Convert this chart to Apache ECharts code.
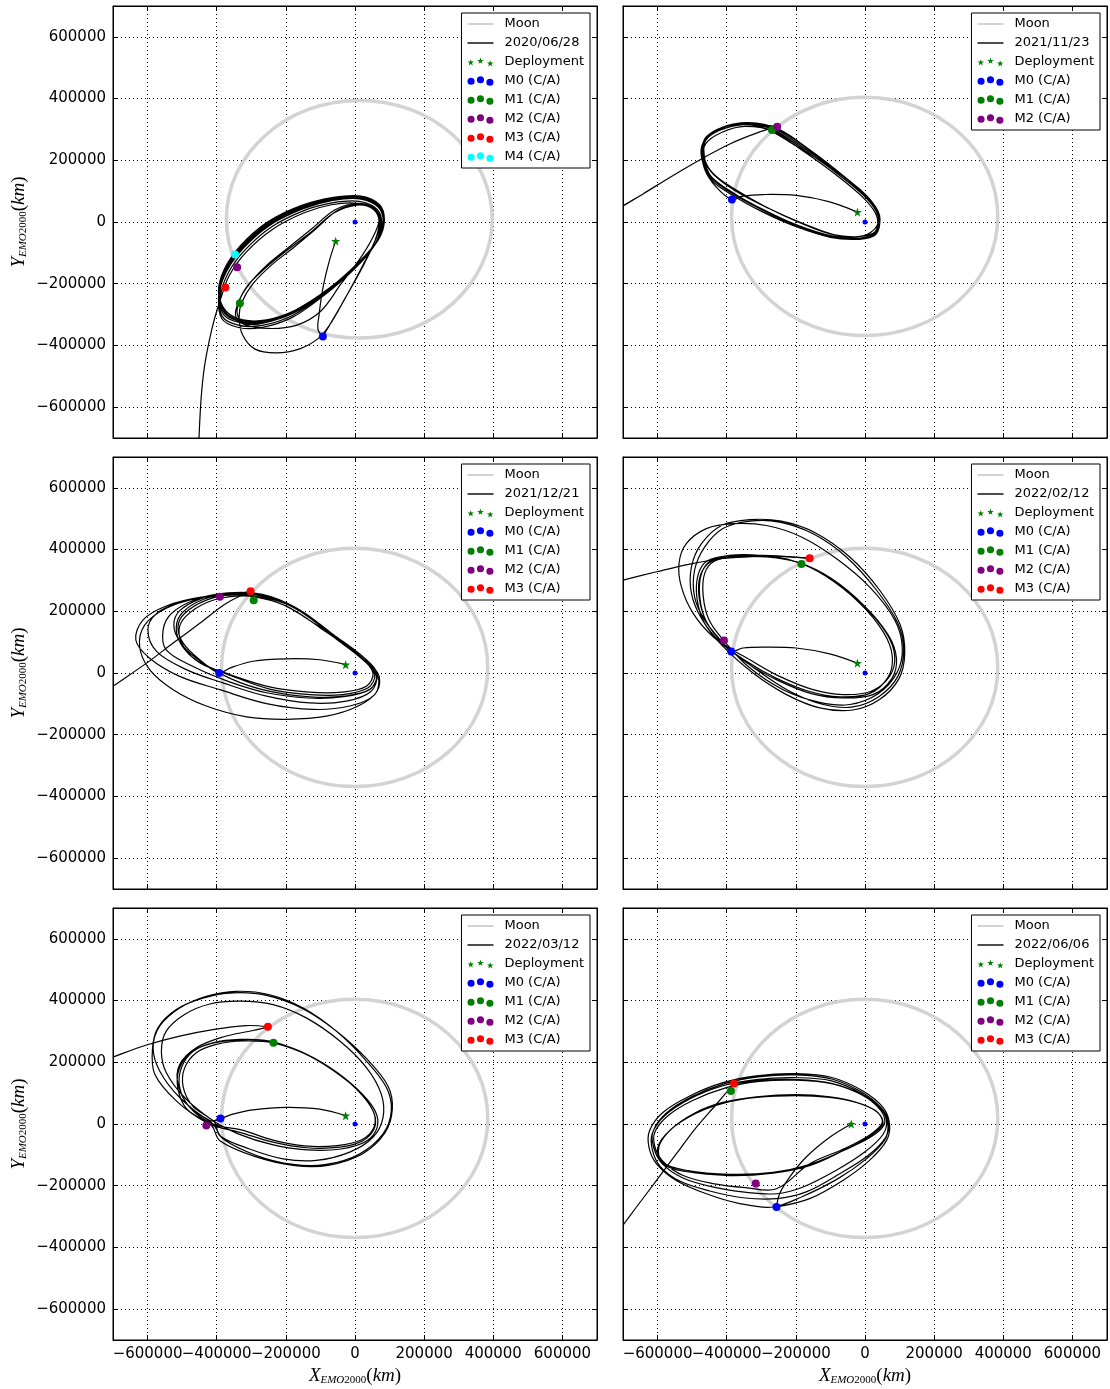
<!DOCTYPE html>
<html>
<head>
<meta charset="utf-8">
<script src="https://cdn.jsdelivr.net/npm/echarts/dist/echarts.min.js"></script>
<style>
html, body { margin: 0; padding: 0; background: #fff; }
#chart { width: 1110px; height: 1389px; }
</style>
</head>
<body>
<div id="chart"></div>
<script>
// panel titles (legend entry of the trajectory)
const dates = ['2020/06/28', '2021/11/23', '2021/12/21', '2022/02/12', '2022/03/12', '2022/06/06'];
const axisRange = [-700000, 700000];

const moon1 = [[397e3,9e3],[367e3,156e3],[284e3,281e3],[160e3,365e3],[12e3,394e3],[-135e3,365e3],[-259e3,281e3],[-343e3,156e3],[-372e3,9e3],[-343e3,-138e3],[-259e3,-263e3],[-135e3,-347e3],[12e3,-376e3],[160e3,-347e3],[284e3,-263e3],[367e3,-138e3]];
const moon2 = [[384e3,18e3],[355e3,166e3],[271e3,291e3],[146e3,375e3],[-1e3,404e3],[-148e3,375e3],[-273e3,291e3],[-357e3,166e3],[-386e3,18e3],[-357e3,-130e3],[-273e3,-255e3],[-148e3,-339e3],[-1e3,-368e3],[146e3,-339e3],[271e3,-255e3],[355e3,-130e3]];

// trajectories (km), one array per drawn stroke
const dep1 = [[-56e3,-62e3],[-75e3,-129e3],[-93e3,-215e3],[-104e3,-301e3],[-107e3,-349e3],[-93e3,-371e3]];
const orb1 = [[-93e3,-371e3],
  [-62e3,-312e3],[-20e3,-230e3],[25e3,-135e3],[62e3,-50e3],[74e3,5e3],[55e3,45e3],[10e3,58e3],[-50e3,38e3],[-116e3,-25e3],[-180e3,-85e3],[-241e3,-139e3],[-295e3,-200e3],[-328e3,-262e3],[-335e3,-310e3],[-325e3,-366e3],[-289e3,-412e3],[-227e3,-424e3],[-160e3,-411e3],[-107e3,-378e3],
  [-73e3,-333e3],[-30e3,-250e3],[20e3,-150e3],[58e3,-60e3],[70e3,0],[52e3,42e3],[5e3,55e3],[-60e3,30e3],[-130e3,-35e3],[-200e3,-95e3],[-260e3,-150e3],[-310e3,-205e3],[-338e3,-262e3],[-345e3,-305e3],[-320e3,-332e3],
  [-250e3,-345e3],[-170e3,-335e3],[-100e3,-290e3],[-40e3,-200e3],[20e3,-110e3],[60e3,-30e3],[70e3,15e3],[48e3,50e3],[0,60e3],[-60e3,38e3],[-125e3,-22e3],[-195e3,-85e3],[-255e3,-140e3],[-305e3,-200e3],[-335e3,-255e3],[-340e3,-300e3],[-318e3,-330e3],
  [-266e3,-328e3],[-179e3,-296e3],[-83e3,-226e3],[4e3,-140e3],[62e3,-65e3],[81e3,0],[67e3,48e3],[14e3,75e3],[-64e3,70e3],[-150e3,43e3],[-247e3,-11e3],[-324e3,-86e3],[-372e3,-161e3],[-393e3,-237e3],
  [-377e3,-296e3],[-329e3,-323e3],[-261e3,-323e3],[-174e3,-290e3],[-78e3,-220e3],[9e3,-134e3],[67e3,-59e3],[83e3,2e3],[69e3,54e3],[15e3,81e3],[-64e3,75e3],[-152e3,48e3],[-249e3,-5e3],[-326e3,-81e3],[-374e3,-156e3],[-391e3,-231e3],
  [-384e3,-306e3],[-335e3,-335e3],[-268e3,-335e3],[-181e3,-303e3],[-87e3,-232e3],[-1e3,-148e3],[57e3,-73e3],[77e3,-9e3],[64e3,41e3],[12e3,67e3],[-66e3,62e3],[-148e3,37e3],[-243e3,-17e3],[-320e3,-93e3],[-368e3,-168e3],[-389e3,-242e3],
  [-380e3,-300e3],[-332e3,-326e3],[-264e3,-326e3],[-177e3,-293e3],[-80e3,-223e3],[7e3,-137e3],[65e3,-62e3],[82e3,1e3],[68e3,51e3],[14e3,78e3],[-64e3,72e3],[-151e3,45e3],[-248e3,-8e3],[-325e3,-84e3],[-373e3,-158e3],[-392e3,-234e3],
  [-372e3,-290e3],[-324e3,-317e3],[-256e3,-317e3],[-172e3,-285e3],[-75e3,-215e3],[12e3,-129e3],[69e3,-54e3],[85e3,5e3],[71e3,56e3],[18e3,84e3],[-62e3,80e3],[-154e3,54e3],[-253e3,0],[-330e3,-75e3],[-377e3,-151e3],[-395e3,-226e3],
  [-375e3,-293e3],[-327e3,-320e3],[-258e3,-320e3],[-173e3,-287e3],[-77e3,-217e3],[10e3,-131e3],[68e3,-56e3],[84e3,3e3],[70e3,55e3],[16e3,82e3],[-63e3,77e3],[-153e3,51e3],[-251e3,-3e3],[-328e3,-78e3],[-376e3,-153e3],[-394e3,-229e3],
  [-386e3,-312e3],[-337e3,-342e3],[-270e3,-342e3],[-183e3,-310e3],[-91e3,-239e3],[-4e3,-155e3],[54e3,-80e3],[73e3,-15e3],[60e3,34e3],[8e3,60e3],[-68e3,56e3],[-147e3,30e3],[-239e3,-24e3],[-316e3,-99e3],[-364e3,-174e3],[-388e3,-247e3],
  [-406e3,-312e3],[-422e3,-387e3],[-436e3,-473e3],[-445e3,-570e3],[-451e3,-694e3],[-454e3,-806e3]];

const orb2 = [[-22e3,32e3],[-102e3,65e3],[-199e3,86e3],[-295e3,89e3],[-353e3,84e3],[-385e3,73e3],
  [-430e3,113e3],[-464e3,172e3],[-470e3,237e3],[-444e3,285e3],[-382e3,314e3],[-295e3,306e3],[-199e3,246e3],[-102e3,179e3],[-15e3,106e3],[33e3,43e3],[35e3,-11e3],[-6e3,-45e3],[-83e3,-43e3],[-179e3,-5e3],[-276e3,43e3],[-372e3,99e3],[-440e3,156e3],
  [-467e3,210e3],[-464e3,269e3],[-420e3,303e3],[-353e3,320e3],[-266e3,304e3],[-170e3,235e3],[-73e3,158e3],[9e3,79e3],[42e3,22e3],[33e3,-32e3],[-15e3,-52e3],[-97e3,-45e3],[-194e3,-11e3],[-290e3,38e3],[-377e3,91e3],[-444e3,145e3],
  [-472e3,204e3],[-468e3,258e3],[-430e3,299e3],[-362e3,316e3],[-276e3,299e3],[-179e3,230e3],[-83e3,152e3],[-1e3,74e3],[35e3,16e3],[28e3,-34e3],[-20e3,-54e3],[-102e3,-48e3],[-199e3,-15e3],[-295e3,32e3],[-382e3,86e3],[-447e3,140e3],
  [-469e3,207e3],[-466e3,263e3],[-425e3,301e3],[-357e3,318e3],[-271e3,302e3],[-175e3,233e3],[-78e3,155e3],[5e3,76e3],[38e3,19e3],[30e3,-33e3],[-17e3,-53e3],[-99e3,-47e3],[-196e3,-13e3],[-292e3,36e3],[-379e3,89e3],[-445e3,143e3],
  [-468e3,199e3],[-461e3,253e3],[-415e3,290e3],[-348e3,310e3],[-261e3,293e3],[-165e3,225e3],[-68e3,147e3],[12e3,72e3],[40e3,16e3],[31e3,-30e3],[-13e3,-47e3],[-92e3,-41e3],[-189e3,-2e3],[-285e3,48e3],[-370e3,102e3],[-438e3,156e3],
  [-466e3,212e3],[-461e3,266e3],[-416e3,305e3],[-344e3,321e3],[-258e3,303e3],[-160e3,232e3],[-66e3,151e3],[14e3,74e3],[41e3,14e3],[32e3,-37e3],[-15e3,-55e3],[-98e3,-48e3],[-197e3,-12e3],[-293e3,39e3],[-380e3,93e3],[-446e3,148e3],
  [-465e3,215e3],[-459e3,271e3],[-411e3,307e3],[-338e3,322e3],[-252e3,302e3],[-155e3,230e3],[-62e3,149e3],[15e3,72e3],[42e3,11e3],[31e3,-41e3],[-17e3,-56e3],[-100e3,-50e3],[-199e3,-13e3],[-297e3,39e3],[-382e3,95e3],[-447e3,150e3],
  [-470e3,226e3],[-454e3,274e3],[-401e3,305e3],[-334e3,316e3],[-254e3,309e3]];
const esc2 = [[-254e3,309e3],[-314e3,288e3],[-391e3,253e3],[-464e3,210e3],[-555e3,151e3],[-642e3,91e3],[-700e3,52e3],[-738e3,24e3]];

const orb3 = [[-27e3,27e3],[-102e3,43e3],[-199e3,46e3],[-295e3,38e3],[-362e3,16e3],[-393e3,0],
  [-449e3,43e3],[-497e3,97e3],[-512e3,150e3],[-493e3,193e3],[-430e3,236e3],[-353e3,255e3],[-256e3,247e3],[-160e3,202e3],[-64e3,118e3],[23e3,43e3],[57e3,-5e3],[38e3,-48e3],[-35e3,-70e3],[-131e3,-70e3],[-247e3,-52e3],[-353e3,-11e3],
  [-454e3,38e3],[-502e3,91e3],[-517e3,148e3],[-499e3,196e3],[-438e3,239e3],[-360e3,258e3],[-261e3,252e3],[-162e3,206e3],[-62e3,124e3],[28e3,48e3],[64e3,-2e3],[44e3,-52e3],[-30e3,-75e3],[-131e3,-77e3],[-249e3,-59e3],[-358e3,-19e3],
  [-459e3,48e3],[-507e3,102e3],[-524e3,156e3],[-507e3,202e3],[-444e3,242e3],[-367e3,260e3],[-268e3,255e3],[-168e3,210e3],[-68e3,127e3],[18e3,52e3],[52e3,0],[33e3,-43e3],[-37e3,-62e3],[-133e3,-62e3],[-247e3,-45e3],[-362e3,-5e3],
  [-447e3,32e3],[-495e3,84e3],[-509e3,140e3],[-488e3,185e3],[-425e3,230e3],[-345e3,249e3],[-247e3,241e3],[-150e3,196e3],[-56e3,113e3],[31e3,38e3],[62e3,-11e3],[42e3,-54e3],[-33e3,-77e3],[-136e3,-81e3],[-256e3,-64e3],[-367e3,-27e3],
  [-468e3,21e3],[-546e3,75e3],[-555e3,140e3],[-531e3,193e3],[-459e3,239e3],[-372e3,258e3],[-276e3,253e3],[-174e3,210e3],[-73e3,129e3],[21e3,48e3],[62e3,-5e3],[47e3,-59e3],[-25e3,-91e3],[-131e3,-97e3],[-256e3,-75e3],[-382e3,-32e3],
  [-488e3,11e3],[-574e3,70e3],[-599e3,140e3],[-574e3,193e3],[-507e3,228e3],[-411e3,249e3],[-305e3,249e3],[-199e3,217e3],[-93e3,140e3],[13e3,54e3],[66e3,-11e3],[57e3,-70e3],[-15e3,-107e3],[-121e3,-118e3],[-256e3,-99e3],[-391e3,-54e3],
  [-507e3,-11e3],[-594e3,48e3],[-634e3,107e3],[-613e3,172e3],[-546e3,217e3],[-449e3,245e3],[-333e3,255e3],[-218e3,226e3],[-112e3,156e3],[-6e3,70e3],[66e3,0],[64e3,-59e3],[9e3,-107e3],[-83e3,-140e3],[-199e3,-150e3],[-314e3,-142e3],[-430e3,-107e3],[-526e3,-54e3],
  [-594e3,11e3],[-623e3,86e3],[-608e3,156e3],[-546e3,210e3],[-459e3,242e3],[-391e3,249e3],[-302e3,265e3]];
const esc3 = [[-302e3,265e3],[-372e3,226e3],[-449e3,161e3],[-526e3,97e3],[-603e3,32e3],[-700e3,-43e3],[-748e3,-81e3]];

const orb4 = [[-22e3,32e3],[-102e3,62e3],[-199e3,81e3],[-295e3,84e3],[-353e3,81e3],[-387e3,70e3],
  [-411e3,97e3],[-464e3,172e3],[-493e3,247e3],[-493e3,333e3],[-464e3,408e3],[-411e3,468e3],[-333e3,492e3],[-247e3,489e3],[-150e3,451e3],[-54e3,376e3],[33e3,269e3],[95e3,161e3],[112e3,75e3],[95e3,-11e3],[42e3,-75e3],[-35e3,-110e3],[-121e3,-102e3],[-218e3,-59e3],[-314e3,11e3],
  [-406e3,91e3],[-459e3,167e3],[-478e3,247e3],[-473e3,322e3],[-444e3,365e3],[-382e3,378e3],[-295e3,378e3],[-199e3,360e3],[-107e3,312e3],[-11e3,226e3],[62e3,129e3],[86e3,54e3],[71e3,-11e3],[18e3,-59e3],[-64e3,-70e3],[-150e3,-54e3],[-247e3,-11e3],[-333e3,43e3],
  [-420e3,102e3],[-473e3,177e3],[-502e3,258e3],[-502e3,344e3],[-473e3,419e3],[-415e3,478e3],[-333e3,497e3],[-242e3,492e3],[-143e3,454e3],[-44e3,376e3],[42e3,269e3],[102e3,156e3],[115e3,64e3],[98e3,-19e3],[42e3,-86e3],[-35e3,-120e3],[-131e3,-113e3],[-227e3,-70e3],[-324e3,0],
  [-415e3,91e3],[-464e3,161e3],[-486e3,242e3],[-483e3,317e3],[-457e3,363e3],[-393e3,381e3],[-305e3,381e3],[-206e3,363e3],[-114e3,314e3],[-17e3,228e3],[54e3,131e3],[79e3,54e3],[66e3,-15e3],[12e3,-67e3],[-73e3,-77e3],[-160e3,-60e3],[-256e3,-17e3],[-343e3,38e3],
  [-440e3,118e3],[-497e3,193e3],[-531e3,279e3],[-538e3,355e3],[-517e3,419e3],[-459e3,468e3],[-382e3,484e3],[-285e3,478e3],[-184e3,441e3],[-83e3,371e3],[13e3,279e3],[86e3,172e3],[108e3,81e3],[92e3,0],[38e3,-67e3],[-44e3,-102e3],[-131e3,-95e3],[-237e3,-54e3],[-338e3,21e3],
  [-406e3,102e3],[-451e3,172e3],[-468e3,249e3],[-464e3,322e3],[-435e3,363e3],[-372e3,376e3],[-285e3,376e3],[-189e3,357e3],[-97e3,306e3],[-4e3,220e3],[67e3,124e3],[91e3,48e3],[77e3,-19e3],[23e3,-70e3],[-64e3,-81e3],[-155e3,-67e3],[-252e3,-24e3],[-341e3,32e3],
  [-411e3,97e3],[-459e3,167e3],[-480e3,247e3],[-476e3,317e3],[-447e3,360e3],[-384e3,378e3],[-295e3,381e3],[-218e3,376e3],[-160e3,372e3]];
const esc4 = [[-160e3,372e3],[-237e3,378e3],[-314e3,378e3],[-411e3,371e3],[-507e3,353e3],[-603e3,328e3],[-700e3,301e3],[-758e3,286e3]];

const orb5 = [[-27e3,27e3],[-102e3,48e3],[-199e3,54e3],[-295e3,46e3],[-353e3,32e3],[-389e3,18e3],
  [-420e3,11e3],[-507e3,86e3],[-565e3,172e3],[-584e3,247e3],[-565e3,317e3],[-507e3,376e3],[-430e3,414e3],[-343e3,430e3],[-247e3,419e3],[-150e3,376e3],[-54e3,301e3],[33e3,204e3],[91e3,118e3],[105e3,43e3],[81e3,-32e3],[13e3,-97e3],[-83e3,-131e3],[-179e3,-131e3],[-285e3,-102e3],[-382e3,-48e3],
  [-411e3,0],[-478e3,54e3],[-507e3,118e3],[-502e3,183e3],[-468e3,236e3],[-411e3,263e3],[-333e3,274e3],[-247e3,269e3],[-160e3,236e3],[-73e3,183e3],[4e3,113e3],[52e3,43e3],[57e3,-11e3],[23e3,-54e3],[-44e3,-75e3],[-141e3,-77e3],[-237e3,-59e3],[-333e3,-27e3],
  [-425e3,2e3],[-517e3,75e3],[-579e3,161e3],[-586e3,242e3],[-570e3,312e3],[-517e3,371e3],[-440e3,408e3],[-353e3,425e3],[-256e3,417e3],[-155e3,376e3],[-56e3,303e3],[35e3,210e3],[95e3,124e3],[108e3,48e3],[86e3,-30e3],[21e3,-97e3],[-78e3,-134e3],[-179e3,-134e3],[-290e3,-105e3],[-391e3,-54e3],
  [-415e3,-5e3],[-486e3,48e3],[-512e3,113e3],[-509e3,177e3],[-476e3,231e3],[-418e3,260e3],[-341e3,272e3],[-254e3,269e3],[-165e3,239e3],[-75e3,185e3],[4e3,116e3],[57e3,45e3],[64e3,-11e3],[31e3,-57e3],[-40e3,-81e3],[-139e3,-84e3],[-239e3,-67e3],[-338e3,-32e3],
  [-411e3,11e3],[-493e3,86e3],[-546e3,167e3],[-560e3,236e3],[-546e3,301e3],[-493e3,355e3],[-420e3,389e3],[-333e3,398e3],[-237e3,387e3],[-141e3,344e3],[-44e3,269e3],[33e3,183e3],[76e3,97e3],[81e3,21e3],[52e3,-43e3],[-15e3,-91e3],[-112e3,-118e3],[-208e3,-113e3],[-305e3,-81e3],[-391e3,-38e3],
  [-406e3,5e3],[-470e3,59e3],[-497e3,120e3],[-493e3,181e3],[-459e3,231e3],[-401e3,258e3],[-322e3,269e3],[-237e3,263e3],[-150e3,230e3],[-64e3,174e3],[12e3,105e3],[54e3,38e3],[54e3,-13e3],[18e3,-52e3],[-52e3,-70e3],[-146e3,-71e3],[-237e3,-52e3],[-329e3,-19e3],
  [-411e3,0],[-478e3,54e3],[-512e3,129e3],[-507e3,193e3],[-459e3,247e3],[-382e3,282e3],[-295e3,303e3],[-252e3,315e3]];
const esc5 = [[-252e3,315e3],[-314e3,319e3],[-411e3,306e3],[-507e3,285e3],[-603e3,256e3],[-700e3,217e3],[-758e3,193e3]];

const dep6 = [[-40e3,0],[-102e3,-43e3],[-170e3,-107e3],[-218e3,-172e3],[-247e3,-226e3],[-256e3,-269e3]];
const orb6 = [[-256e3,-269e3],
  [-160e3,-242e3],[-64e3,-183e3],[13e3,-118e3],[62e3,-54e3],[71e3,0],[52e3,54e3],[-6e3,107e3],[-93e3,150e3],[-199e3,163e3],[-314e3,156e3],[-411e3,134e3],[-507e3,91e3],[-584e3,38e3],[-623e3,-21e3],[-625e3,-75e3],[-603e3,-129e3],[-546e3,-183e3],[-459e3,-226e3],[-362e3,-258e3],[-266e3,-269e3],
  [-179e3,-234e3],[-78e3,-177e3],[4e3,-113e3],[57e3,-52e3],[66e3,0],[47e3,48e3],[-11e3,99e3],[-97e3,140e3],[-203e3,150e3],[-314e3,144e3],[-411e3,124e3],[-507e3,81e3],[-579e3,27e3],[-615e3,-30e3],[-615e3,-84e3],[-592e3,-138e3],[-536e3,-185e3],[-449e3,-217e3],[-353e3,-239e3],[-256e3,-242e3],
  [-170e3,-220e3],[-73e3,-161e3],[9e3,-102e3],[60e3,-43e3],[68e3,5e3],[47e3,52e3],[-8e3,102e3],[-94e3,145e3],[-199e3,159e3],[-309e3,153e3],[-406e3,131e3],[-502e3,88e3],[-576e3,34e3],[-613e3,-24e3],[-611e3,-77e3],[-586e3,-129e3],[-528e3,-174e3],[-441e3,-204e3],[-348e3,-221e3],[-256e3,-226e3],
  [-179e3,-204e3],[-83e3,-150e3],[-1e3,-91e3],[52e3,-34e3],[62e3,11e3],[42e3,54e3],[-13e3,97e3],[-97e3,131e3],[-200e3,142e3],[-305e3,138e3],[-401e3,118e3],[-497e3,77e3],[-570e3,27e3],[-608e3,-27e3],[-607e3,-77e3],[-582e3,-124e3],[-526e3,-167e3],[-440e3,-193e3],[-346e3,-206e3],[-256e3,-210e3],
  [-160e3,-129e3],[-54e3,-77e3],[18e3,-32e3],[50e3,5e3],[33e3,41e3],[-25e3,70e3],[-102e3,88e3],[-199e3,95e3],[-314e3,88e3],[-411e3,70e3],[-488e3,38e3],[-560e3,-16e3],[-596e3,-73e3],[-586e3,-124e3],[-517e3,-150e3],[-391e3,-163e3],[-266e3,-157e3],
  [-160e3,-131e3],[-52e3,-80e3],[21e3,-34e3],[52e3,2e3],[35e3,39e3],[-23e3,69e3],[-102e3,86e3],[-199e3,92e3],[-314e3,86e3],[-411e3,67e3],[-490e3,34e3],[-563e3,-19e3],[-599e3,-75e3],[-588e3,-127e3],[-519e3,-154e3],[-391e3,-167e3],[-266e3,-159e3],
  [-160e3,-135e3],[-60e3,-85e3],[20e3,-40e3],[56e3,0],[45e3,45e3],[-10e3,95e3],[-97e3,132e3],[-200e3,144e3],[-295e3,142e3],[-379e3,131e3]];
const esc6 = [[-379e3,131e3],[-430e3,64e3],[-488e3,-11e3],[-546e3,-97e3],[-603e3,-183e3],[-661e3,-269e3],[-700e3,-328e3],[-738e3,-387e3]];

const panelPaths = [[dep1, orb1], [orb2, esc2], [orb3, esc3], [orb4, esc4], [orb5, esc5], [dep6, orb6, esc6]];

// event markers per panel (null = not in that panel)
const earthPt = [0, 0];
const deployPts = [[-56e3,-62e3],[-22e3,32e3],[-27e3,27e3],[-22e3,32e3],[-27e3,27e3],[-40e3,0]];
const m0Pts = [[-93e3,-371e3],[-385e3,73e3],[-393e3,0],[-387e3,70e3],[-389e3,18e3],[-256e3,-269e3]];
const m1Pts = [[-333e3,-263e3],[-269e3,298e3],[-293e3,236e3],[-184e3,353e3],[-236e3,263e3],[-388e3,107e3]];
const m2Pts = [[-341e3,-147e3],[-254e3,309e3],[-391e3,247e3],[-408e3,105e3],[-430e3,-5e3],[-316e3,-193e3]];
const m3Pts = [[-375e3,-212e3],null,[-302e3,265e3],[-160e3,372e3],[-252e3,315e3],[-379e3,131e3]];
const m4Pts = [[-347e3,-105e3],null,null,null,null,null];

const markerSets = [
  { name: 'M0 (C/A)', pts: m0Pts, color: '#0000ff' },
  { name: 'M1 (C/A)', pts: m1Pts, color: '#008000' },
  { name: 'M2 (C/A)', pts: m2Pts, color: '#800080' },
  { name: 'M3 (C/A)', pts: m3Pts, color: '#ff0000' },
  { name: 'M4 (C/A)', pts: m4Pts, color: '#00ffff' }
];

const starPath = 'path://M0,-10L2.35,-3.24L9.51,-3.09L3.8,1.24L5.88,8.09L0,4L-5.88,8.09L-3.8,1.24L-9.51,-3.09L-2.35,-3.24Z';
const dotsIcon = 'path://M0,5a3.5,3.5 0 1,0 7,0a3.5,3.5 0 1,0 -7,0Z M9.25,3.5a3.5,3.5 0 1,0 7,0a3.5,3.5 0 1,0 -7,0Z M18.5,6a3.5,3.5 0 1,0 7,0a3.5,3.5 0 1,0 -7,0Z';
const starsIcon = 'path://M3.5,1.7L4.26,3.95L6.64,3.98L4.74,5.4L5.44,7.67L3.5,6.3L1.56,7.67L2.26,5.4L0.36,3.98L2.74,3.95Z' +
  'M12.75,0.2L13.51,2.45L15.89,2.48L13.99,3.9L14.69,6.17L12.75,4.8L10.81,6.17L11.51,3.9L9.61,2.48L11.99,2.45Z' +
  'M22,2.7L22.76,4.95L25.14,4.98L23.24,6.4L23.94,8.67L22,7.3L20.06,8.67L20.76,6.4L18.86,4.98L21.24,4.95Z';
const moonIcon = 'path://M0,0H26V2H0Z';
const lineIcon = 'path://M0,0H26V1.4H0Z';

const boxes = [[113, 6], [623, 6], [113, 457], [623, 457], [113, 908], [623, 908]];
const PW = 484, PH = 432, W = 1110;

const serif = 'Liberation Serif';
const nameRich = {
  v: { fontFamily: serif, fontStyle: 'italic', fontSize: 19, color: '#000' },
  s: { fontFamily: serif, fontStyle: 'italic', fontSize: 11, color: '#000', padding: [9, 0, 0, 0] },
  d: { fontFamily: serif, fontSize: 11, color: '#000', padding: [9, 0, 0, 0] },
  p: { fontFamily: serif, fontSize: 19, color: '#000' },
  k: { fontFamily: serif, fontStyle: 'italic', fontSize: 19, color: '#000' }
};

function fmt(v) {
  return (v < 0 ? '\u2212' : '') + Math.abs(v);
}

function makeAxis(g, pos, showLabels, name, extra) {
  const a = {
    type: 'value', gridIndex: g, position: pos,
    min: axisRange[0], max: axisRange[1], splitNumber: 7,
    axisLine: { show: true, onZero: false, lineStyle: { color: '#000', width: 1 } },
    axisTick: { show: true, inside: true, length: 5, lineStyle: { color: '#000', width: 1 } },
    axisLabel: {
      show: showLabels, showMinLabel: false, showMaxLabel: false, formatter: fmt,
      color: '#000', fontFamily: 'DejaVu Sans', fontSize: 15, margin: 7
    },
    splitLine: { show: !extra, lineStyle: { color: '#000', width: 1, type: [1, 3] } },
    splitArea: { show: false }
  };
  if (name) {
    a.name = name;
    a.nameLocation = 'middle';
    a.nameTextStyle = { rich: nameRich };
    if (pos === 'left') { a.nameGap = 84; a.nameRotate = 90; } else { a.nameGap = 26; }
  }
  return a;
}

// a smooth stroke through the read points, placed with the axis scales
function curve(pts, g, name, color, width, loop, z) {
  return {
    type: 'custom', name: name, xAxisIndex: 2 * g, yAxisIndex: 2 * g,
    data: pts, encode: { x: 0, y: 1 }, clip: true, silent: true, z: z,
    itemStyle: { color: color },
    renderItem: function (params, api) {
      if (params.dataIndex !== 0) return null;
      const px = pts.map(function (p) { return api.coord(p); });
      return {
        type: loop ? 'polygon' : 'polyline',
        shape: { points: px, smooth: 0.35 },
        style: { stroke: color, lineWidth: width, fill: null }
      };
    }
  };
}

const grids = [], xAxes = [], yAxes = [], series = [], legends = [];

boxes.forEach(function (b, g) {
  const leftCol = g % 2 === 0, bottomRow = g >= 4;
  grids.push({ left: b[0], top: b[1], width: PW, height: PH, show: true, borderColor: '#000', borderWidth: 1, backgroundColor: 'transparent', outerBoundsMode: 'none' });
  xAxes.push(makeAxis(g, 'bottom', bottomRow, bottomRow ? '{v|X}{s|EMO}{d|2000}{p|(}{k|km}{p|)}' : null, false));
  xAxes.push(makeAxis(g, 'top', false, null, true));
  yAxes.push(makeAxis(g, 'left', leftCol, leftCol ? '{v|Y}{s|EMO}{d|2000}{p|(}{k|km}{p|)}' : null, false));
  yAxes.push(makeAxis(g, 'right', false, null, true));

  const ax = { xAxisIndex: 2 * g, yAxisIndex: 2 * g };
  series.push(curve(g === 0 ? moon1 : moon2, g, 'Moon', '#d3d3d3', 3.5, true, 2));
  panelPaths[g].forEach(function (seg) {
    series.push(curve(seg, g, dates[g], '#000', 1.2, false, 3));
  });
  series.push(Object.assign({ type: 'scatter', name: 'Earth', data: [earthPt], symbolSize: 5, itemStyle: { color: '#0000ff', opacity: 1 }, z: 5 }, ax));
  series.push(Object.assign({ type: 'scatter', name: 'Deployment', data: [deployPts[g]], symbol: starPath, symbolSize: 9, itemStyle: { color: '#008000', opacity: 1 }, z: 6 }, ax));

  const legendData = [
    { name: 'Moon', icon: moonIcon },
    { name: dates[g], icon: lineIcon },
    { name: 'Deployment', icon: starsIcon }
  ];
  markerSets.forEach(function (m) {
    if (!m.pts[g]) return;
    series.push(Object.assign({ type: 'scatter', name: m.name, data: [m.pts[g]], symbolSize: 8, itemStyle: { color: m.color, opacity: 1 }, z: 6 }, ax));
    legendData.push({ name: m.name, icon: dotsIcon });
  });

  legends.push({
    orient: 'vertical', align: 'left',
    right: W - (b[0] + PW - 7), top: b[1] + 7,
    data: legendData, selectedMode: false,
    itemWidth: 26, itemHeight: 11, itemGap: 5,
    padding: [4, 6, 4, 6],
    backgroundColor: '#fff', borderColor: '#000', borderWidth: 1, borderRadius: 0,
    itemStyle: { borderWidth: 0, opacity: 1 },
    textStyle: { fontFamily: 'DejaVu Sans', fontSize: 13, color: '#000', lineHeight: 14, padding: [0, 0, 0, 6] },
    z: 10
  });
});

const chart = echarts.init(document.getElementById('chart'));
chart.setOption({
  animation: false,
  backgroundColor: '#fff',
  grid: grids,
  xAxis: xAxes,
  yAxis: yAxes,
  legend: legends,
  series: series
});
</script>
</body>
</html>
